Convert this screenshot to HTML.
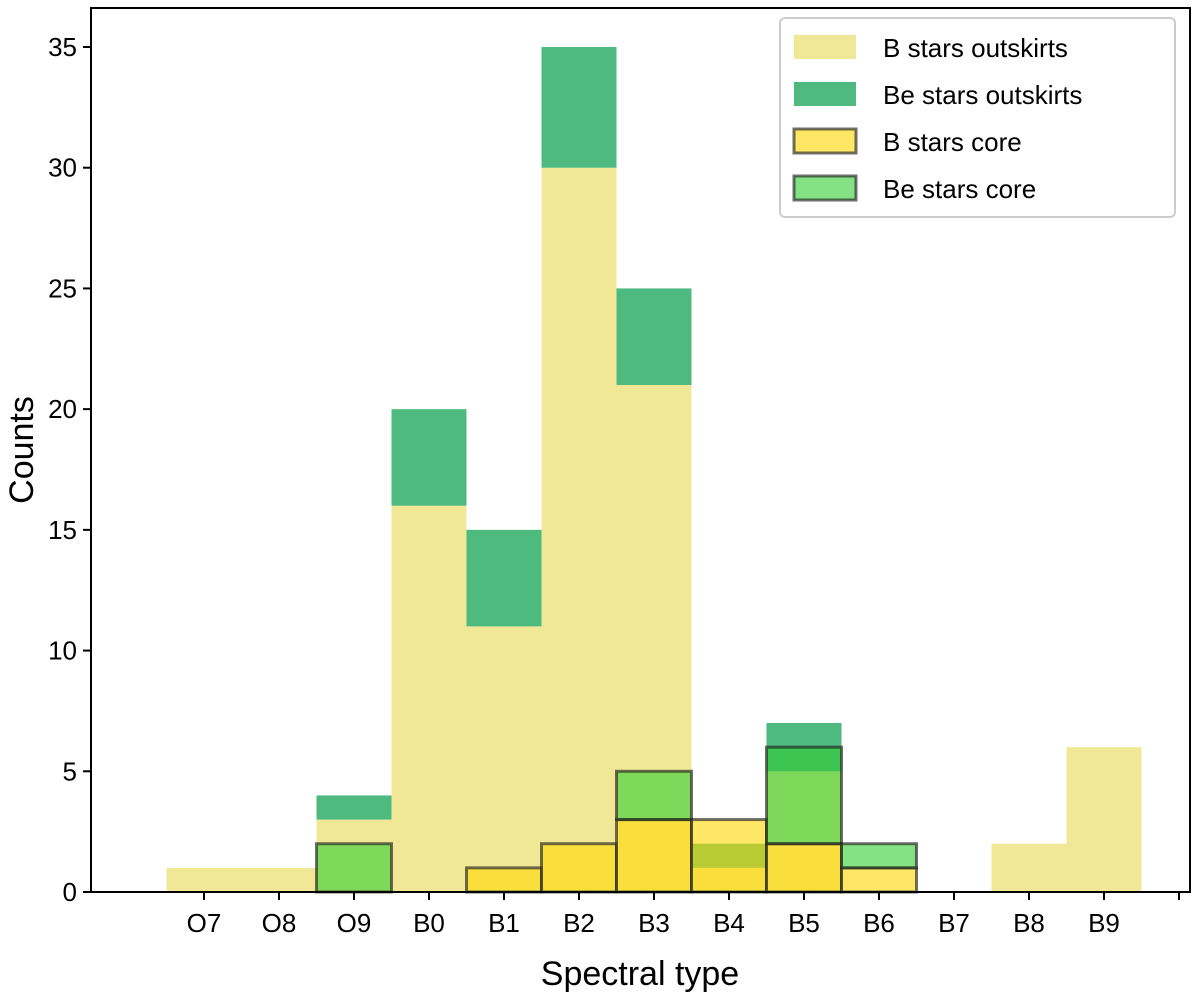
<!DOCTYPE html>
<html><head><meta charset="utf-8"><style>body{margin:0;background:#fff}svg{display:block;font-family:"Liberation Sans","DejaVu Sans",sans-serif}</style></head>
<body>
<svg id="c" width="1200" height="1000"></svg>
<script>
const categories=["O7","O8","O9","B0","B1","B2","B3","B4","B5","B6","B7","B8","B9"];
const bOut=[1,1,3,16,11,30,21,1,5,0,0,2,6];
const beOut=[0,0,1,4,4,5,4,1,2,0,0,0,0];
const bCore=[0,0,0,0,1,2,3,3,2,1,0,0,0];
const beCore=[0,0,2,0,0,0,2,0,4,1,0,0,0];
const yTicks=[0,5,10,15,20,25,30,35];
const NS="http://www.w3.org/2000/svg",svg=document.getElementById("c");
const X0=91,X1=1190,Y0=892,YT=47;
const y=v=>Y0-(Y0-YT)*v/35;
const xc=i=>204+75*i;
function mk(t,a,p){const e=document.createElementNS(NS,t);for(const k in a)e.setAttribute(k,a[k]);(p||svg).appendChild(e);return e;}
function bar(i,b,t,fill,op,edge,name){
  if(t<=b)return;
  const r=mk("rect",{x:xc(i)-37.5,y:y(t),width:75,height:y(b)-y(t),fill:fill,"fill-opacity":op});
  if(edge){r.setAttribute("stroke","#222");r.setAttribute("stroke-opacity","0.65");r.setAttribute("stroke-width","3");}
  
  
}
categories.forEach((c,i)=>{bar(i,0,bOut[i],"#f0e68c",0.9,false,"b-outskirts-bar");bar(i,bOut[i],bOut[i]+beOut[i],"#3cb371",0.9,false,"be-outskirts-bar");});
categories.forEach((c,i)=>{bar(i,0,bCore[i],"#ffd700",0.6,true,"b-core-bar");bar(i,bCore[i],bCore[i]+beCore[i],"#32cd32",0.6,true,"be-core-bar");});
const ax=mk("rect",{x:X0,y:8,width:X1-X0,height:Y0-8,fill:"none",stroke:"#000","stroke-width":2});


yTicks.forEach(v=>{mk("line",{x1:X0-8,x2:X0,y1:y(v),y2:y(v),stroke:"#000","stroke-width":2});
 const t=mk("text",{x:X0-14,y:y(v)+9,"font-size":26,"text-anchor":"end"});t.textContent=v;
 
 });
categories.concat([""]).forEach((c,i)=>{mk("line",{x1:xc(i),x2:xc(i),y1:Y0,y2:Y0+8,stroke:"#000","stroke-width":2});
 if(c){const t=mk("text",{x:xc(i),y:Y0+40,"font-size":26,"text-anchor":"middle"});t.textContent=c;
 
 }});
const xl=mk("text",{x:640,y:985,"font-size":34,"text-anchor":"middle"});xl.textContent="Spectral type";


const yl=mk("text",{x:0,y:0,"font-size":34,"text-anchor":"middle",transform:"translate(33,450) rotate(-90)"});yl.textContent="Counts";


const lg=mk("g",{});


mk("rect",{x:780,y:18,width:395,height:199,rx:5,fill:"#fff","fill-opacity":0.8,stroke:"#ccc","stroke-width":2},lg);
const L=[["B stars outskirts","#f0e68c",0.9,false],["Be stars outskirts","#3cb371",0.9,false],["B stars core","#ffd700",0.6,true],["Be stars core","#32cd32",0.6,true]];
L.forEach((l,k)=>{const yy=35+k*47;
 const r=mk("rect",{x:794,y:yy,width:62,height:24,fill:l[1],"fill-opacity":l[2]},lg);
 if(l[3]){r.setAttribute("stroke","#222");r.setAttribute("stroke-opacity","0.65");r.setAttribute("stroke-width","3");}
 const t=mk("text",{x:883,y:yy+22,"font-size":26},lg);t.textContent=l[0];
 
 });
</script>
</body></html>
